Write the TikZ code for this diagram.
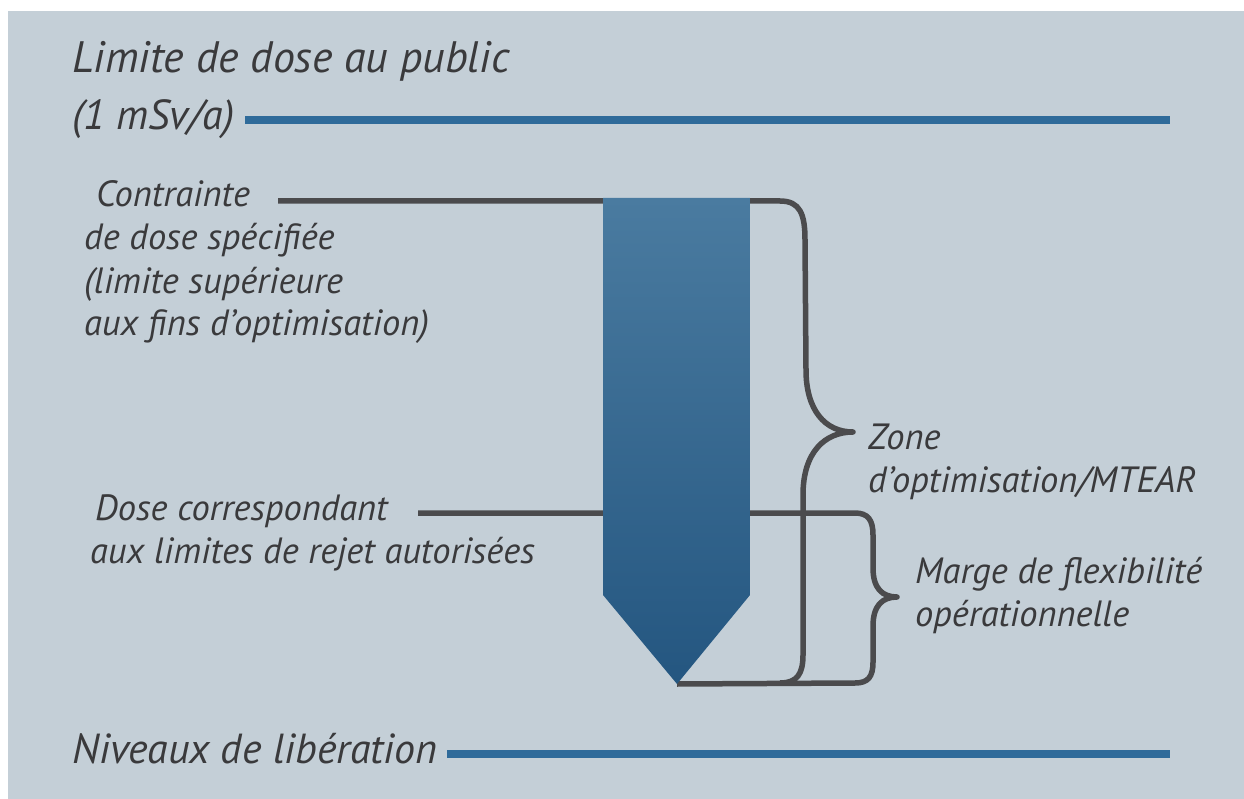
\documentclass[tikz,border=0pt]{standalone}
\usepackage{fontspec}
\setmainfont{PT Sans}
\usetikzlibrary{positioning}

\definecolor{panelbg}{RGB}{196,207,215}
\definecolor{limitblue}{RGB}{47,107,154}
\definecolor{darkline}{RGB}{75,75,77}
\definecolor{labelgrey}{RGB}{58,58,60}
\definecolor{bartop}{RGB}{74,123,160}
\definecolor{barbottom}{RGB}{36,86,128}

\begin{document}
\begin{tikzpicture}[x=1pt,y=-1pt,
    bigtext/.style={font=\fontsize{42}{46}\selectfont\itshape, text=labelgrey, inner sep=0pt, anchor=base west},
    smalltext/.style={font=\fontsize{36.5}{43}\selectfont\itshape, text=labelgrey, inner sep=0pt, anchor=base west, align=left},
    blueline/.style={draw=limitblue, line width=8pt},
    greyline/.style={draw=darkline, line width=5.5pt, line join=round, line cap=butt}]
  \useasboundingbox (0,0) rectangle (1244,799);
  \fill[white] (0,0) rectangle (1244,799);
  \fill[panelbg] (8,11) rectangle (1244,799);

  % public dose limit and clearance levels
  \node[bigtext, font=\fontsize{44}{48}\selectfont\itshape] (pubLimit) at (72,73) {Limite de dose au public};
  \node[bigtext] (pubUnit) at (72,130) {(1 mSv/a)};
  \node[bigtext] (clearance) at (72,763) {Niveaux de libération};
  \coordinate (unitStart) at (245,120);
  \coordinate (unitEnd) at (1170,120);
  \coordinate (clearStart) at (447,754);
  \coordinate (clearEnd) at (1170,754);
  \draw[blueline] (unitStart) -- (unitEnd);
  \draw[blueline] (clearStart) -- (clearEnd);

  % left labels (base = last line)
  \node[smalltext] (constraint) at (84,336) {\hspace*{12pt}Contrainte\\de dose spécifiée\\(limite supérieure\\aux fins d’optimisation)};
  \node[smalltext] (releaseDose) at (90,563) {\hspace*{5pt}Dose correspondant\\aux limites de rejet autorisées};

  % bar corners and brace points
  \coordinate (barNW) at (603,198);
  \coordinate (barNE) at (750,198);
  \coordinate (barSE) at (750,595);
  \coordinate (barTip) at (677,684);
  \coordinate (barSW) at (603,595);
  \coordinate (constrStart) at (278,201);
  \coordinate (releaseStart) at (418,513);
  \coordinate (optTip) at (853,432);
  \coordinate (flexTip) at (897,597);

  % upper brace: constraint to release-level tip
  \draw[greyline] (constrStart) -- (780,201)
    .. controls (800,201) and (805,214) .. (805,240) -- (806,370)
    .. controls (806,410) and (825,432) .. (optTip)
    .. controls (825,432) and (803,452) .. (803,495) -- (803,655)
    .. controls (803,674) and (797,683) .. (780,683);
  % lower brace
  \draw[greyline] (releaseStart) -- (855,513)
    .. controls (868,513) and (873,520) .. (873,535) -- (873,568)
    .. controls (873,588) and (882,597) .. (flexTip)
    .. controls (882,597) and (873,606) .. (873,626) -- (873,662)
    .. controls (873,677) and (868,683) .. (855,683) -- (barTip);

  \shade[top color=bartop, bottom color=barbottom]
    (barNW) -- (barNE) -- (barSE) -- (barTip) -- (barSW) -- cycle;

  % right labels
  \node[smalltext] (optZone) at (868,492) {Zone\\d’optimisation/MTEAR};
  \node[smalltext] (flexMargin) at (915,626) {Marge de flexibilité\\opérationnelle};
\end{tikzpicture}
\end{document}
